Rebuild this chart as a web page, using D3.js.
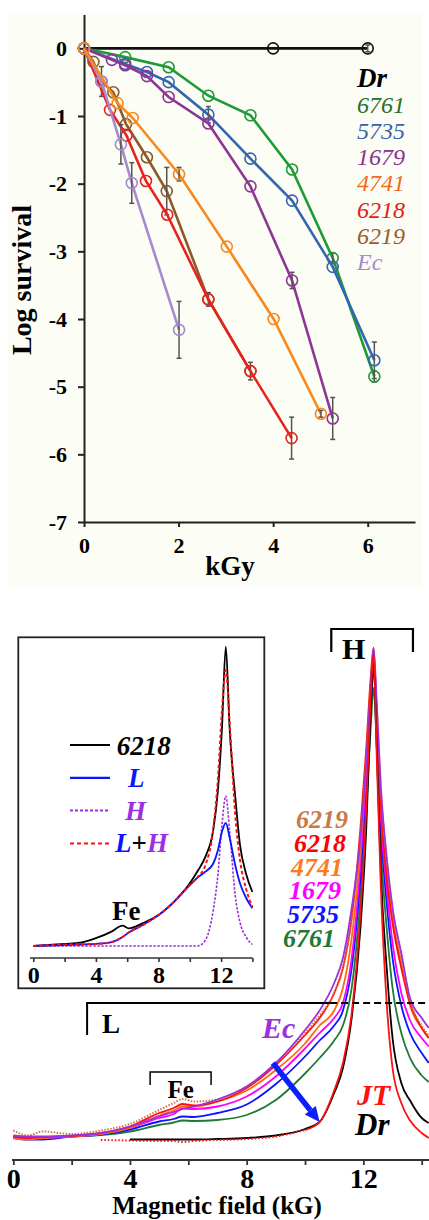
<!DOCTYPE html>
<html><head><meta charset="utf-8">
<script src="https://cdn.jsdelivr.net/npm/d3@7"></script>
<style>body{margin:0;background:#fff}svg{display:block}</style>
</head><body>
<svg id="c" width="429" height="1220"></svg>
<script>
// ================= TOP CHART DATA (Log survival vs kGy) =================
const doseDr=[0,4,6],                                   logDr=[0,0,0],                                         errDr=[0,0,0.05];
const dose6761=[0,0.87,1.79,2.63,3.52,4.40,5.26,6.14],  log6761=[0,-0.13,-0.28,-0.70,-0.99,-1.79,-3.10,-4.85],  err6761=[0,0,0,0,0,0,0.08,0.08];
const dose5735=[0,0.87,1.33,1.79,2.63,3.52,4.40,5.26,6.14], log5735=[0,-0.23,-0.35,-0.50,-0.98,-1.63,-2.25,-3.23,-4.61], err5735=[0,0,0,0,0.12,0,0,0,0.27];
const dose1679=[0,0.59,0.87,1.33,1.79,2.63,3.52,4.40,5.26], log1679=[0,-0.17,-0.25,-0.41,-0.72,-1.11,-2.04,-3.43,-5.47], err1679=[0,0,0,0,0,0,0,0.12,0.31];
const dose4741=[0,0.71,1.03,2.01,3.02,4.01,5.01],       log4741=[0,-0.81,-1.03,-1.86,-2.93,-4.00,-5.40],        err4741=[0,0,0,0.1,0,0,0.05];
const dose6218=[0,0.55,0.90,1.31,1.76,2.63,3.52,4.39],  log6218=[0,-0.91,-1.29,-1.96,-2.46,-3.71,-4.77,-5.76],  err6218=[0,0,0,0,0,0,0,0.31];
const dose6219=[0,0.20,0.37,0.62,0.89,1.33,1.75,2.63,3.52], log6219=[0,-0.20,-0.49,-0.65,-1.12,-1.61,-2.11,-3.71,-4.77], err6219=[0,0,0.22,0,0,0,0.35,0.1,0.13];
const doseEc=[0,0.37,0.78,1.01,2.01],                   logEc=[0,-0.49,-1.42,-1.99,-4.16],                      errEc=[0,0,0.29,0.30,0.42];
const survTicksY=[0,-1,-2,-3,-4,-5,-6,-7];
const survTicksX=[0,2,4,6];
const topLegendNames=["Dr","6761","5735","1679","4741","6218","6219","Ec"];

// ================= BOTTOM CHART DATA (EPR spectra) =================
const fieldGrid=[0,0.5,1,2,3,4,5,5.5,5.8,6.2,7,8,9,10,10.5,11,11.3,11.6,11.9,12.1,12.25,12.35,12.45,12.6,12.8,13.0,13.3,13.6,14.0,14.24];
const specEc  =[0.5,0.3,0.3,0.5,1.0,2.3,4.3,5.2,5.8,6.3,7.7,10.3,15,21.6,25.5,31,36,46,60,75,90,98,88,70,56,46,37,28,24,22];
const spec6219=[1.5,0.5,1.3,0.8,1.5,2.8,5.6,7,7.8,7.3,7.7,10.3,15,21,24.5,29,34,44,60,76,90,96,87,70,56,46,36,27.5,22.5,20.5];
const spec6218=[0.3,0,0.2,0.4,1.0,2.3,5,6,6.8,6.5,7.3,10,14.6,20.6,24,29,34,44,62,78,92,98,86,66,52,43,34,27,22,20];
const spec4741=[0,-0.3,0,0.3,0.8,2,4.5,5.5,6.3,6.3,7.3,9.5,13.6,18.9,22.5,25.5,30,40,58,75,90,95,85,66,53,44,35,26.5,22,20];
const spec1679=[0.3,0,0,0.3,0.8,2,4,4.8,5.9,5.8,6.3,8.3,12.3,17.9,21,24,27,36,55,73,88,96,85,64,50,39,29,23.5,20,18.3];
const spec5735=[0,-0.3,-0.3,0.3,0.7,1.7,3.3,3.8,4.3,4.2,5,6.7,10.8,16.3,19.5,22.5,25.5,34,52,70,86,94,83,62,47,36,26.5,21,17,15];
const spec6761=[0.3,0,0,0.3,0.6,1.3,2.6,3.1,3.5,3.4,3.6,4.6,7.6,12.9,16,19.5,22.5,30,48,66,82,90,80,58,42,30,21,16,12.5,11.2];
const specDr  =[null,null,null,null,null,-0.3,-0.3,-0.3,-0.3,-0.3,-0.2,0,0.5,1.8,3.2,9,14,24,42,62,85,95,80,53,34,20,11,7.5,4,3];
const specJT  =[null,null,null,null,-0.4,-0.5,-0.6,-0.6,-0.8,-0.6,-0.4,-0.2,0.3,1.6,3.2,9.5,15,25,45,66,88,97,78,50,27,14,7,3.5,1,0];
const fieldTicks=[0,2,4,6,8,10,12,14];
const bottomLegendNames=["6219","6218","4741","1679","5735","6761"];

// inset (6218 decomposition)
const insetGrid=[0,2,3,4,5,5.7,6.1,7,8,9,10,10.5,11,11.5,11.8,12.05,12.3,12.55,12.9,13.2,13.6,14.0];
const inset6218=[0,0.7,1.1,2.6,4.8,6.8,5.9,7.6,10.3,14.8,20.9,25,29.8,38.7,52,72,99.8,72,50,34,24,18];
const insetL   =[0,0.3,0.5,0.7,1.3,3,4.5,7,10.3,14.8,20.3,22.8,24.8,27.5,32,38,41,36,27,21,16,12.6];
const insetH   =[0,0,0,0,0,0,0,0,0,0,0,0,2,12,24,40,50,38,17,8,3,0.5];
const insetLH  =[0,0.5,0.6,0.7,1.3,3,4.5,7,10.3,14.8,20.3,23,27,39,56,78,92,74,44,29,19,13];
const insetTicks=[0,2,4,6,8,10,12,14];

// annotations (data coordinates)
const arrowFrom=[8.9,15], arrowTo=[10.5,3.2];
const bracketL={x0:2.53,xs:10.86,x1:14.25,y:27,yLeg:20.6};
const bracketFe={x0:4.69,x1:6.78,y:13.2,yLeg:10.6};
const bracketH={x0:10.9,x1:13.7,y:101.8,yLeg:97.2};

// ================= DRAW =================
const F="'Liberation Serif','Times New Roman',serif";
const svg=d3.select("#c");

// --- top panel
svg.append("rect").attr("x",8).attr("y",13).attr("width",414).attr("height",573).attr("fill","#fcfdf4");
const x1=d3.scaleLinear().domain([0,7]).range([84,415]);
const y1=d3.scaleLinear().domain([-7,0.5]).range([522,14.5]);

const ax1=svg.append("g").attr("transform","translate(84,0)")
  .call(d3.axisLeft(y1).tickValues(survTicksY).tickSize(6).tickSizeOuter(0).tickFormat(d=>d===0?"0":"-"+Math.abs(d)));
ax1.selectAll("text").attr("x",-17).attr("font-family",F).attr("font-weight","bold").attr("font-size",22).attr("fill","#000");
const ax1b=svg.append("g").attr("transform","translate(0,522)")
  .call(d3.axisBottom(x1).tickValues(survTicksX).tickSize(5).tickSizeOuter(0).tickFormat(d3.format("d")));
ax1b.selectAll("text").attr("y",31).attr("dy",null).attr("font-family",F).attr("font-weight","bold").attr("font-size",22).attr("fill","#000");
[ax1,ax1b].forEach(a=>{a.selectAll("path,line").attr("stroke","#222").attr("stroke-width",2);});

svg.append("text").attr("x",230).attr("y",575).attr("text-anchor","middle").attr("font-family",F)
  .attr("font-weight","bold").attr("font-size",27).text("kGy");
svg.append("text").attr("transform","translate(31,280) rotate(-90)").attr("text-anchor","middle").attr("font-family",F)
  .attr("font-weight","bold").attr("font-size",28).text("Log survival");

const topSeries=[
  {d:doseDr,v:logDr,e:errDr,c:"#111111"},
  {d:dose6761,v:log6761,e:err6761,c:"#1f9a38"},
  {d:dose5735,v:log5735,e:err5735,c:"#3465b0"},
  {d:dose1679,v:log1679,e:err1679,c:"#8e3596"},
  {d:dose6219,v:log6219,e:err6219,c:"#8a5a2e"},
  {d:dose6218,v:log6218,e:err6218,c:"#e8221c"},
  {d:doseEc,v:logEc,e:errEc,c:"#a68ad0"},
  {d:dose4741,v:log4741,e:err4741,c:"#f7891e"}
];
const line1=d3.line().x(p=>x1(p[0])).y(p=>y1(p[1]));
topSeries.forEach(s=>{
  const pts=s.d.map((d,i)=>[d,s.v[i],s.e[i]]);
  svg.append("path").attr("d",line1(pts)).attr("fill","none").attr("stroke",s.c).attr("stroke-width",2.6);
  pts.filter(p=>p[2]>0).forEach(p=>{
    const g=svg.append("g").attr("stroke","#555").attr("stroke-width",1.5);
    g.append("line").attr("x1",x1(p[0])).attr("x2",x1(p[0])).attr("y1",y1(p[1]+p[2])).attr("y2",y1(p[1]-p[2]));
    g.append("line").attr("x1",x1(p[0])-2.5).attr("x2",x1(p[0])+2.5).attr("y1",y1(p[1]+p[2])).attr("y2",y1(p[1]+p[2]));
    g.append("line").attr("x1",x1(p[0])-2.5).attr("x2",x1(p[0])+2.5).attr("y1",y1(p[1]-p[2])).attr("y2",y1(p[1]-p[2]));
  });
  svg.append("g").selectAll("circle").data(pts).join("circle")
    .attr("cx",p=>x1(p[0])).attr("cy",p=>y1(p[1])).attr("r",5.5)
    .attr("fill","none").attr("stroke",s.c).attr("stroke-width",1.6);
});
const topLegColors={"Dr":"#000","6761":"#2b6e2b","5735":"#3a62ad","1679":"#8a3291","4741":"#f06a1c","6218":"#e21b1b","6219":"#9a5c2c","Ec":"#a68ad0"};
topLegendNames.forEach((n,i)=>{
  svg.append("text").attr("x",357).attr("y",87+i*26.1).attr("font-family",F).attr("font-style","italic")
    .attr("font-weight",n==="Dr"?"bold":"normal").attr("font-size",n==="Dr"?27:24)
    .attr("fill",topLegColors[n]).text(n);
});

// --- bottom main spectra
const x2=d3.scaleLinear().domain([0,14.25]).range([13.3,429]);
const y2=d3.scaleLinear().domain([0,100]).range([1138,638]);
const ax2=svg.append("g").attr("transform","translate(0,1160)")
  .call(d3.axisBottom(x2).tickValues(fieldTicks).tickSize(5).tickSizeOuter(0).tickFormat(d=>d%4===0?d:""));
ax2.select(".domain").attr("d","M12,0H429");
ax2.selectAll("path,line").attr("stroke","#333").attr("stroke-width",1.8);
ax2.selectAll("text").attr("y",28).attr("dy",null).attr("font-family",F).attr("font-weight","bold").attr("font-size",28).attr("fill","#000");
svg.append("text").attr("x",217).attr("y",1214).attr("text-anchor","middle").attr("font-family",F)
  .attr("font-weight","bold").attr("font-size",25).text("Magnetic field (kG)");

const line2=d3.line().defined(p=>p[1]!=null).x(p=>x2(p[0])).y(p=>y2(p[1])).curve(d3.curveMonotoneX);
const mainSeries=[
  {v:spec6761,c:"#1e7a34",w:1.8},
  {v:spec5735,c:"#0a14ff",w:1.8},
  {v:spec1679,c:"#ff00ff",w:1.8},
  {v:spec4741,c:"#ff6a10",w:1.8},
  {v:spec6218,c:"#ff1010",w:1.8},
  {v:spec6219,c:"#d9733a",w:2,dash:"1.5,1.5"},
  {v:specEc,c:"#9b30e0",w:1.8},
  {v:specDr,c:"#000000",w:1.8}
];
mainSeries.forEach(s=>{
  const pts=fieldGrid.map((f,i)=>[f,s.v[i]]);
  svg.append("path").attr("d",line2(pts)).attr("fill","none").attr("stroke",s.c).attr("stroke-width",s.w)
    .attr("stroke-dasharray",s.dash||null);
});
// JT: dotted in flat region, solid near the peak
const jtPts=fieldGrid.map((f,i)=>[f,specJT[i]]);
svg.append("path").attr("d",line2(jtPts.filter(p=>p[0]<=10))).attr("fill","none").attr("stroke","#ff1010")
  .attr("stroke-width",2).attr("stroke-dasharray","1.5,2");
svg.append("path").attr("d",line2(jtPts.filter(p=>p[0]>=10))).attr("fill","none").attr("stroke","#ff1010").attr("stroke-width",1.8);

// brackets
const bk=svg.append("g").attr("fill","none").attr("stroke","#000").attr("stroke-width",2);
bk.append("path").attr("d",`M${x2(bracketL.x0)},${y2(bracketL.yLeg)}V${y2(bracketL.y)}H${x2(bracketL.xs)}`);
bk.append("path").attr("d",`M${x2(bracketL.xs)},${y2(bracketL.y)}H${x2(bracketL.x1)}`).attr("stroke-dasharray","7,4");
bk.append("path").attr("d",`M${x2(bracketFe.x0)},${y2(bracketFe.yLeg)}V${y2(bracketFe.y)}H${x2(bracketFe.x1)}V${y2(bracketFe.yLeg)}`).attr("stroke-width",1.5);
bk.append("path").attr("d",`M${x2(bracketH.x0)},${y2(bracketH.yLeg)}V${y2(bracketH.y)}H${x2(bracketH.x1)}V${y2(bracketH.yLeg)}`).attr("stroke-width",2.2);
const lab=(x,y,t,o)=>svg.append("text").attr("x",x).attr("y",y).attr("font-family",F)
  .attr("font-weight","bold").attr("font-size",o.fs).attr("font-style",o.it?"italic":"normal").attr("fill",o.c||"#000").text(t);
lab(x2(bracketL.x0)+15,1033,"L",{fs:27});
lab(x2((bracketFe.x0+bracketFe.x1)/2)-13,1098,"Fe",{fs:25});
lab(342,659,"H",{fs:30});
lab(262,1038,"Ec",{fs:30,it:true,c:"#9b30e0"});
lab(357,1105,"JT",{fs:30,it:true,c:"#ff1010"});
lab(355,1135,"Dr",{fs:31,it:true,c:"#000"});

// arrow
const ax=x2(arrowFrom[0]),ay=y2(arrowFrom[1]),bx=x2(arrowTo[0]),by=y2(arrowTo[1]);
const ang=Math.atan2(by-ay,bx-ax), hl=15, hw=7;
const sx=bx-hl*Math.cos(ang), sy=by-hl*Math.sin(ang);
svg.append("line").attr("x1",ax).attr("y1",ay).attr("x2",sx).attr("y2",sy).attr("stroke","#0a1eff").attr("stroke-width",5.5);
svg.append("path").attr("fill","#0a1eff").attr("d",
  `M${bx},${by}L${sx+hw*Math.sin(ang)},${sy-hw*Math.cos(ang)}L${sx-hw*Math.sin(ang)},${sy+hw*Math.cos(ang)}Z`);

// bottom legend
const botLegColors={"6219":"#c87a48","6218":"#ff0000","4741":"#ff7a1a","1679":"#ff00ff","5735":"#0a14ff","6761":"#1e7a34"};
const botLegX=[296,294,291,289,287,283];
bottomLegendNames.forEach((n,i)=>{
  lab(botLegX[i],828.3+i*23.7,n,{fs:26,it:true,c:botLegColors[n]});
});

// --- inset
svg.append("rect").attr("x",18.3).attr("y",637.3).attr("width",246).attr("height",351)
  .attr("fill","#fff").attr("stroke","#222").attr("stroke-width",1.8);
const x3=d3.scaleLinear().domain([0,14]).range([33.3,252.4]);
const y3=d3.scaleLinear().domain([0,100]).range([946,646]);
const ax3=svg.append("g").attr("transform","translate(0,958)")
  .call(d3.axisBottom(x3).tickValues(insetTicks).tickSize(4).tickSizeOuter(0).tickFormat(d=>d%4===0?d:""));
ax3.select(".domain").attr("d","M30,0H252.7");
ax3.selectAll("path,line").attr("stroke","#333").attr("stroke-width",1.6);
ax3.selectAll("text").attr("y",25).attr("dy",null).attr("font-family",F).attr("font-weight","bold").attr("font-size",24).attr("fill","#000");
const line3=d3.line().x(p=>x3(p[0])).y(p=>y3(p[1])).curve(d3.curveMonotoneX);
const insetSeries=[
  {v:insetH,c:"#9b30e0",w:1.6,dash:"2.5,1.5"},
  {v:inset6218,c:"#000",w:1.8},
  {v:insetL,c:"#0a14ff",w:1.8},
  {v:insetLH,c:"#ff1010",w:2,dash:"3.5,2.5"}
];
insetSeries.forEach(s=>{
  svg.append("path").attr("d",line3(insetGrid.map((f,i)=>[f,s.v[i]]))).attr("fill","none")
    .attr("stroke",s.c).attr("stroke-width",s.w).attr("stroke-dasharray",s.dash||null);
});
lab(112,920,"Fe",{fs:27});
// inset legend
const legRows=[
  {c:"#000",dash:null,w:2},{c:"#0a14ff",dash:null,w:2.2},{c:"#9b30e0",dash:"3,2",w:2},{c:"#ff1010",dash:"4,3",w:2}
];
legRows.forEach((r,i)=>{
  const yy=745+i*32.8;
  svg.append("line").attr("x1",70).attr("x2",110).attr("y1",yy).attr("y2",yy).attr("stroke",r.c)
    .attr("stroke-width",r.w).attr("stroke-dasharray",r.dash);
});
lab(116.7,755,"6218",{fs:27,it:true});
lab(128,787,"L",{fs:27,it:true,c:"#0a14ff"});
lab(125,820,"H",{fs:27,it:true,c:"#9b30e0"});
const lh=svg.append("text").attr("x",115).attr("y",852).attr("font-family",F).attr("font-weight","bold").attr("font-size",27);
lh.append("tspan").attr("font-style","italic").attr("fill","#0a14ff").text("L");
lh.append("tspan").attr("fill","#000").text("+");
lh.append("tspan").attr("font-style","italic").attr("fill","#9b30e0").text("H");
</script>
</body></html>
